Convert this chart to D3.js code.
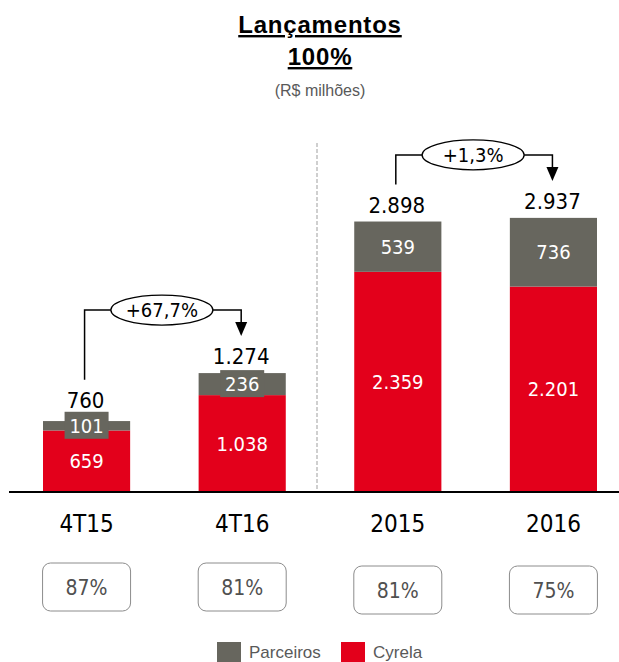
<!DOCTYPE html>
<html>
<head>
<meta charset="utf-8">
<script src="https://cdn.jsdelivr.net/npm/d3@7"></script>
<style>
  body { margin: 0; background: #fff; }
  svg { display: block; }
</style>
</head>
<body>
<script>
// chart values
var categories = ["4T15", "4T16", "2015", "2016"];
var cyrela = [659, 1038, 2359, 2201];
var parceiros = [101, 236, 539, 736];
var totalLabels = ["760", "1.274", "2.898", "2.937"];
var cyrelaLabels = ["659", "1.038", "2.359", "2.201"];
var parceirosLabels = ["101", "236", "539", "736"];
var shareLabels = ["87%", "81%", "81%", "75%"];
var growth = [
  {from: "4T15", to: "4T16", label: "+67,7%"},
  {from: "2015", to: "2016", label: "+1,3%"}
];

var width = 619, height = 662;
var red = "#e3001b", gray = "#67665e";
var numFont = "'DejaVu Sans Condensed', 'DejaVu Sans', sans-serif";
var arial = "'Liberation Sans', Arial, sans-serif";

var svg = d3.select("body").append("svg")
    .attr("width", width)
    .attr("height", height);

var x = d3.scaleBand()
    .domain(categories)
    .range([43, 597])
    .paddingInner(0.44)
    .paddingOuter(0);

var y = d3.scaleLinear()
    .domain([0, 3000])
    .range([492, 212]);

var bw = x.bandwidth();

// title
svg.append("text")
    .attr("x", 320).attr("y", 33)
    .attr("text-anchor", "middle")
    .style("font-family", arial).style("font-weight", "bold")
    .style("font-size", "24px").style("letter-spacing", "0.8px")
    .style("text-decoration", "underline")
    .text("Lançamentos");
svg.append("text")
    .attr("x", 320).attr("y", 65)
    .attr("text-anchor", "middle")
    .style("font-family", arial).style("font-weight", "bold")
    .style("font-size", "24px").style("letter-spacing", "0.8px")
    .style("text-decoration", "underline")
    .text("100%");
svg.append("text")
    .attr("x", 320).attr("y", 96)
    .attr("text-anchor", "middle")
    .style("font-family", arial).style("font-size", "16px")
    .style("fill", "#595959")
    .text("(R$ milhões)");

// dashed divider between quarters and years
var divX = (x("4T16") + bw + x("2015")) / 2 - 3;
svg.append("line")
    .attr("x1", divX).attr("x2", divX)
    .attr("y1", 143).attr("y2", y(0))
    .attr("stroke", "#c0c0c0").attr("stroke-width", 1.5)
    .attr("stroke-dasharray", "4,2");

// bars
var bars = svg.selectAll(".bar")
    .data(categories)
    .enter().append("g")
    .attr("class", "bar");

bars.append("rect")
    .attr("x", function(d){ return x(d); })
    .attr("y", function(d, i){ return y(cyrela[i]); })
    .attr("width", bw)
    .attr("height", function(d, i){ return y(0) - y(cyrela[i]); })
    .attr("fill", red);

bars.append("rect")
    .attr("x", function(d){ return x(d); })
    .attr("y", function(d, i){ return y(cyrela[i] + parceiros[i]); })
    .attr("width", bw)
    .attr("height", function(d, i){ return y(cyrela[i]) - y(cyrela[i] + parceiros[i]); })
    .attr("fill", gray);

// small grey segments get a grey label box
var labelTops = [];
categories.forEach(function(c, i){
    var top = y(cyrela[i] + parceiros[i]);
    var mid = (y(cyrela[i]) + top) / 2;
    var segH = y(cyrela[i]) - top;
    var cx = x(c) + bw / 2;
    var labelTop = top - 9;
    if (segH < 30) {
        svg.append("rect")
            .attr("x", cx - 22).attr("y", mid - 14)
            .attr("width", 44).attr("height", 27)
            .attr("fill", gray);
        labelTop = Math.min(labelTop, mid - 18);
    }
    labelTops.push(labelTop);
    svg.append("text")
        .attr("x", cx).attr("y", mid + 7)
        .attr("text-anchor", "middle")
        .style("font-family", numFont).style("font-size", "20px")
        .style("fill", "#fff")
        .text(parceirosLabels[i]);
    svg.append("text")
        .attr("x", cx).attr("y", (y(0) + y(cyrela[i])) / 2 + 7)
        .attr("text-anchor", "middle")
        .style("font-family", numFont).style("font-size", "20px")
        .style("fill", "#fff")
        .text(cyrelaLabels[i]);
    svg.append("text")
        .attr("x", cx - 1).attr("y", labelTop)
        .attr("text-anchor", "middle")
        .style("font-family", numFont).style("font-size", "22px")
        .style("fill", "#000")
        .text(totalLabels[i]);
});

// baseline
svg.append("line")
    .attr("x1", 9).attr("x2", width)
    .attr("y1", y(0)).attr("y2", y(0))
    .attr("stroke", "#000").attr("stroke-width", 2);

// growth arrows
growth.forEach(function(g){
    var i0 = categories.indexOf(g.from), i1 = categories.indexOf(g.to);
    var x0 = x(g.from) + bw / 2 - 2, x1 = x(g.to) + bw / 2 - 1;
    var t0 = labelTops[i0] - 16, t1 = labelTops[i1] - 16;
    var hy = Math.min(t0, t1) - 38;
    var ex = (x0 + x1) / 2 - 1;
    svg.append("path")
        .attr("d", "M" + x0 + "," + (t0 - 12) + "V" + hy + "H" + x1 + "V" + (t1 - 26))
        .attr("fill", "none").attr("stroke", "#000").attr("stroke-width", 1.5);
    svg.append("path")
        .attr("d", "M" + (x1 - 6) + "," + (t1 - 26) + "L" + (x1 + 6) + "," + (t1 - 26) +
            "L" + x1 + "," + (t1 - 12) + "Z")
        .attr("fill", "#000");
    svg.append("ellipse")
        .attr("cx", ex).attr("cy", hy)
        .attr("rx", 51).attr("ry", 15)
        .attr("fill", "#fff").attr("stroke", "#000").attr("stroke-width", 1.3);
    svg.append("text")
        .attr("x", ex).attr("y", hy + 7)
        .attr("text-anchor", "middle")
        .style("font-family", numFont).style("font-size", "20px")
        .text(g.label);
});

// category labels
svg.selectAll(".cat")
    .data(categories)
    .enter().append("text")
    .attr("class", "cat")
    .attr("x", function(d){ return x(d) + bw / 2; })
    .attr("y", 532)
    .attr("text-anchor", "middle")
    .style("font-family", numFont).style("font-size", "24px")
    .text(function(d){ return d; });

// share boxes
var boxes = svg.selectAll(".share")
    .data(categories)
    .enter().append("g")
    .attr("class", "share");
boxes.append("rect")
    .attr("x", function(d){ return x(d) + bw / 2 - 44; })
    .attr("y", function(d, i){ return i < 2 ? 563 : 566; })
    .attr("width", 88).attr("height", 48)
    .attr("rx", 8)
    .attr("fill", "#fff").attr("stroke", "#8c8c8c").attr("stroke-width", 1);
boxes.append("text")
    .attr("x", function(d){ return x(d) + bw / 2; })
    .attr("y", function(d, i){ return i < 2 ? 595 : 598; })
    .attr("text-anchor", "middle")
    .style("font-family", numFont).style("font-size", "21px")
    .style("fill", "#505050")
    .text(function(d, i){ return shareLabels[i]; });

// legend
var legendItems = [{name: "Parceiros", color: gray, x: 217}, {name: "Cyrela", color: red, x: 341}];
var legend = svg.selectAll(".legend")
    .data(legendItems)
    .enter().append("g")
    .attr("class", "legend")
    .attr("transform", function(d){ return "translate(" + d.x + ",642)"; });
legend.append("rect")
    .attr("width", 24).attr("height", 20)
    .attr("fill", function(d){ return d.color; });
legend.append("text")
    .attr("x", 32).attr("y", 16)
    .style("font-family", arial).style("font-size", "17px")
    .style("fill", "#595959")
    .text(function(d){ return d.name; });
</script>
</body>
</html>
